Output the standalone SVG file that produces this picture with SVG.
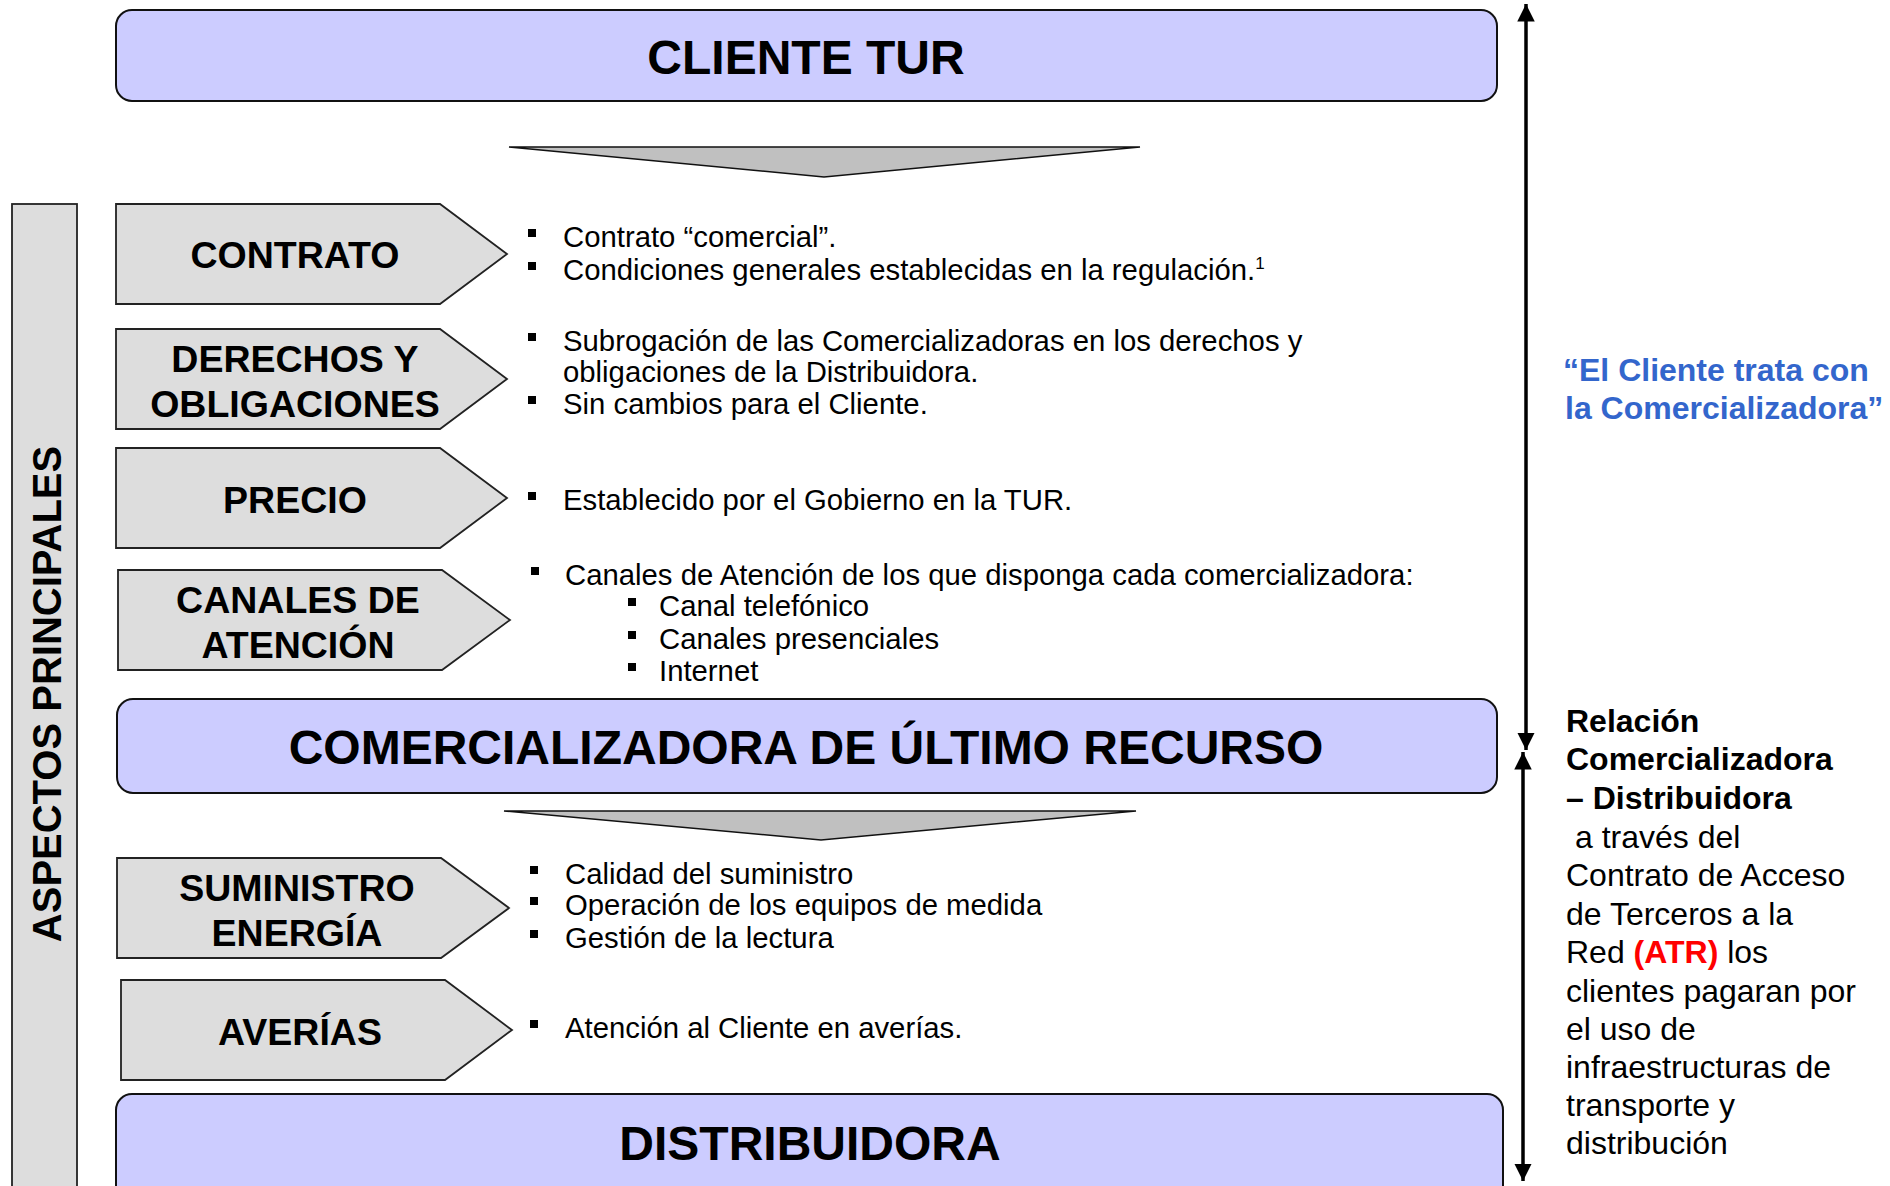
<svg xmlns="http://www.w3.org/2000/svg" width="1890" height="1186" viewBox="0 0 1890 1186">
<style>
.big{fill:#ccccff;stroke:#111;stroke-width:2}
.tri{fill:#c0c0c0;stroke:#111;stroke-width:1.5}
.arr{fill:#dddddd;stroke:#222;stroke-width:1.8}
.bar{fill:#dddddd;stroke:#222;stroke-width:1.8}
.bt{font-family:"Liberation Sans",Arial,sans-serif;font-weight:bold;fill:#000;text-anchor:middle}
.t{font-family:"Liberation Sans",Arial,sans-serif;font-size:29.3px;fill:#000}
.r{font-family:"Liberation Sans",Arial,sans-serif;font-size:32px;fill:#000}
.b{font-weight:bold}
.blue{font-family:"Liberation Sans",Arial,sans-serif;font-size:32px;font-weight:bold;fill:#3366cc}
.bul{fill:#000}
.ln{stroke:#000;stroke-width:3.5;fill:none}
</style>
<defs>
<marker id="ah" viewBox="0 0 10 10" refX="10" refY="5" markerWidth="5" markerHeight="5" orient="auto-start-reverse" markerUnits="strokeWidth">
<path d="M0,0 L10,5 L0,10 Z" fill="#000"/>
</marker>
</defs>

<g id="aspectos">
<rect class="bar" x="12" y="204" width="65" height="990"/>
<text class="bt" font-size="40" transform="translate(61,694) rotate(-90)">ASPECTOS PRINCIPALES</text>
</g>

<g id="cliente-tur">
<rect class="big" x="116" y="10" width="1381" height="91" rx="16"/>
<text class="bt" font-size="48" x="806" y="74">CLIENTE TUR</text>
</g>
<g id="flecha1"><polygon class="tri" points="509,147 1140,147 824,177"/></g>

<g id="contrato">
<path class="arr" d="M116,204 H440 L507,254 L440,304 H116 Z"/>
<text class="bt" font-size="37.5" x="295" y="268">CONTRATO</text>
</g>
<g id="derechos">
<path class="arr" d="M116,329 H440 L507,379 L440,429 H116 Z"/>
<text class="bt" font-size="37.5" x="295" y="372">DERECHOS Y</text>
<text class="bt" font-size="37.5" x="295" y="417">OBLIGACIONES</text>
</g>
<g id="precio">
<path class="arr" d="M116,448 H440 L507,498 L440,548 H116 Z"/>
<text class="bt" font-size="37.5" x="295" y="513">PRECIO</text>
</g>
<g id="canales">
<path class="arr" d="M118,570 H442 L510,620 L442,670 H118 Z"/>
<text class="bt" font-size="37.5" x="298" y="613">CANALES DE</text>
<text class="bt" font-size="37.5" x="298" y="658">ATENCIÓN</text>
</g>

<g id="cur">
<rect class="big" x="117" y="699" width="1380" height="94" rx="16"/>
<text class="bt" font-size="48" x="806" y="764">COMERCIALIZADORA DE ÚLTIMO RECURSO</text>
</g>
<g id="flecha2"><polygon class="tri" points="504,811 1136,811 821,840"/></g>

<g id="suministro">
<path class="arr" d="M117,858 H441 L509,908 L441,958 H117 Z"/>
<text class="bt" font-size="37.5" x="297" y="901">SUMINISTRO</text>
<text class="bt" font-size="37.5" x="297" y="946">ENERGÍA</text>
</g>
<g id="averias">
<path class="arr" d="M121,980 H445 L512,1030 L445,1080 H121 Z"/>
<text class="bt" font-size="37.5" x="300" y="1045">AVERÍAS</text>
</g>

<g id="distribuidora">
<rect class="big" x="116" y="1094" width="1387" height="110" rx="16"/>
<text class="bt" font-size="48" x="810" y="1160">DISTRIBUIDORA</text>
</g>

<g id="textos">
<rect class="bul" x="528" y="229" width="8" height="8"/>
<text class="t" x="563" y="247">Contrato “comercial”.</text>
<rect class="bul" x="528" y="262" width="8" height="8"/>
<text class="t" x="563" y="280">Condiciones generales establecidas en la regulación.<tspan font-size="17" dy="-11">1</tspan></text>

<rect class="bul" x="528" y="333" width="8" height="8"/>
<text class="t" x="563" y="351">Subrogación de las Comercializadoras en los derechos y</text>
<text class="t" x="563" y="382">obligaciones de la Distribuidora.</text>
<rect class="bul" x="528" y="396" width="8" height="8"/>
<text class="t" x="563" y="414">Sin cambios para el Cliente.</text>

<rect class="bul" x="528" y="492" width="8" height="8"/>
<text class="t" x="563" y="510">Establecido por el Gobierno en la TUR.</text>

<rect class="bul" x="531" y="567" width="8" height="8"/>
<text class="t" x="565" y="585">Canales de Atención de los que disponga cada comercializadora:</text>
<rect class="bul" x="628" y="598" width="8" height="8"/>
<text class="t" x="659" y="616">Canal telefónico</text>
<rect class="bul" x="628" y="631" width="8" height="8"/>
<text class="t" x="659" y="649">Canales presenciales</text>
<rect class="bul" x="628" y="663" width="8" height="8"/>
<text class="t" x="659" y="681">Internet</text>

<rect class="bul" x="530" y="866" width="8" height="8"/>
<text class="t" x="565" y="884">Calidad del suministro</text>
<rect class="bul" x="530" y="897" width="8" height="8"/>
<text class="t" x="565" y="915">Operación de los equipos de medida</text>
<rect class="bul" x="530" y="930" width="8" height="8"/>
<text class="t" x="565" y="948">Gestión de la lectura</text>

<rect class="bul" x="530" y="1020" width="8" height="8"/>
<text class="t" x="565" y="1038">Atención al Cliente en averías.</text>
</g>

<g id="conectores">
<line class="ln" x1="1526" y1="4" x2="1526" y2="750" marker-start="url(#ah)" marker-end="url(#ah)"/>
<line class="ln" x1="1523" y1="752" x2="1523" y2="1181" marker-start="url(#ah)" marker-end="url(#ah)"/>
</g>

<g id="nota-cliente">
<text class="blue" x="1563" y="381">“El Cliente trata con</text>
<text class="blue" x="1565" y="419">la Comercializadora”</text>
</g>

<g id="nota-atr">
<text class="r b" x="1566" y="732">Relación</text>
<text class="r b" x="1566" y="770">Comercializadora</text>
<text class="r b" x="1566" y="809">– Distribuidora</text>
<text class="r" x="1575" y="848">a través del</text>
<text class="r" x="1566" y="886">Contrato de Acceso</text>
<text class="r" x="1566" y="925">de Terceros a la</text>
<text class="r" x="1566" y="963">Red <tspan font-weight="bold" fill="#ff0000">(ATR)</tspan> los</text>
<text class="r" x="1566" y="1002">clientes pagaran por</text>
<text class="r" x="1566" y="1040">el uso de</text>
<text class="r" x="1566" y="1078">infraestructuras de</text>
<text class="r" x="1566" y="1116">transporte y</text>
<text class="r" x="1566" y="1154">distribución</text>
</g>
</svg>
